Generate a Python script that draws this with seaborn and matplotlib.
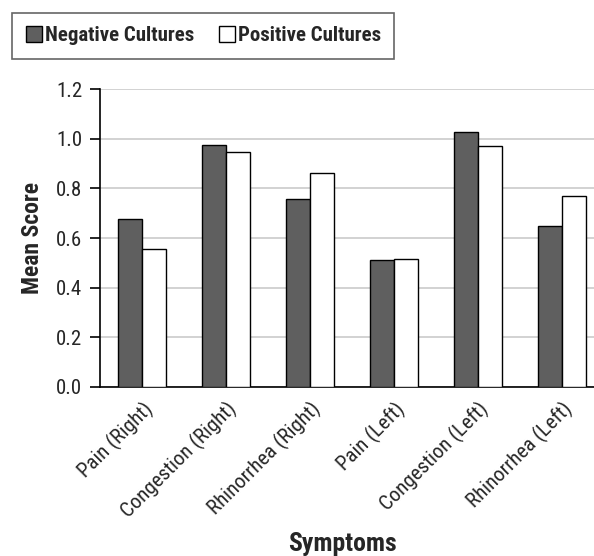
import numpy as np
import pandas as pd
import seaborn as sns
import matplotlib.pyplot as plt
from matplotlib import font_manager
from matplotlib.transforms import ScaledTranslation

# values
symptoms = ['Pain (Right)', 'Congestion (Right)', 'Rhinorrhea (Right)',
            'Pain (Left)', 'Congestion (Left)', 'Rhinorrhea (Left)']
negative = [0.676, 0.974, 0.758, 0.513, 1.027, 0.650]
positive = [0.556, 0.945, 0.862, 0.515, 0.972, 0.770]
groups = ['Negative Cultures', 'Positive Cultures']
yticks = [0.0, 0.2, 0.4, 0.6, 0.8, 1.0, 1.2]

df = pd.DataFrame({
    'Symptom': symptoms * 2,
    'Group': [groups[0]] * len(symptoms) + [groups[1]] * len(symptoms),
    'Score': negative + positive,
})

sns.set_style('white')
# the original uses a narrow Arial-like face; take a narrow one if there is one
installed = {f.name for f in font_manager.fontManager.ttflist}
narrow = [n for n in ['Liberation Sans Narrow', 'Arial Narrow', 'Roboto Condensed',
                      'Open Sans Condensed'] if n in installed]
plt.rcParams['font.family'] = narrow + ['Liberation Sans', 'DejaVu Sans']
fs = 15 if narrow else 13

W, H = 594, 556
fig = plt.figure(figsize=(W / 100, H / 100), dpi=100)
# axes runs a little past the right edge, like the original
ax = fig.add_axes([100.4 / W, (H - 386.7) / H, 503.4 / W, 297.4 / H])

sns.barplot(data=df, x='Symptom', y='Score', hue='Group', order=symptoms,
            hue_order=groups, palette=['#5f5f5f', 'white'], width=0.57,
            edgecolor='black', linewidth=1.0, ax=ax, zorder=3)

ax.set_xlim(-0.5, 5.5)
ax.set_ylim(0, 1.2)
ax.set_yticks(yticks)
ax.set_yticklabels([f'{v:.1f}' for v in yticks], fontsize=fs)
ax.yaxis.grid(True, color='#d2d2d2', linewidth=1.4, zorder=0)
ax.set_axisbelow(True)
for s in ['top', 'right']:
    ax.spines[s].set_visible(False)
for s in ['left', 'bottom']:
    ax.spines[s].set_color('black')
    ax.spines[s].set_linewidth(1.2)
ax.tick_params(axis='y', left=True, length=7, width=1.2, color='black', pad=6)
ax.tick_params(axis='x', bottom=False, pad=2)
ax.set_xticks(range(len(symptoms)))
ax.set_xticklabels(symptoms, rotation=45, ha='right', rotation_mode='anchor', fontsize=fs)
for lab in ax.get_xticklabels():
    lab.set_transform(lab.get_transform() + ScaledTranslation(0.0, -0.04, fig.dpi_scale_trans))

ax.set_xlabel('')
ax.set_ylabel('Mean Score', fontsize=fs + 2, fontweight='bold', labelpad=9)
fig.text(342 / W, 1 - 544 / H, 'Symptoms', fontsize=fs + 3.5, fontweight='bold',
         ha='center', va='center')

handles, labels = ax.get_legend_handles_labels()
ax.get_legend().remove()
leg = fig.legend(handles, labels, loc='upper left', ncol=2,
                 bbox_to_anchor=(12.5 / W, 1 - 12.7 / H), borderaxespad=0,
                 frameon=True, fancybox=False, edgecolor='#404040',
                 prop={'weight': 'bold', 'size': fs}, handlelength=0.75,
                 handleheight=0.75, handletextpad=0.15, columnspacing=1.2,
                 borderpad=0.65)
leg.get_frame().set_linewidth(1.2)

fig.savefig('out.png', dpi=100)
